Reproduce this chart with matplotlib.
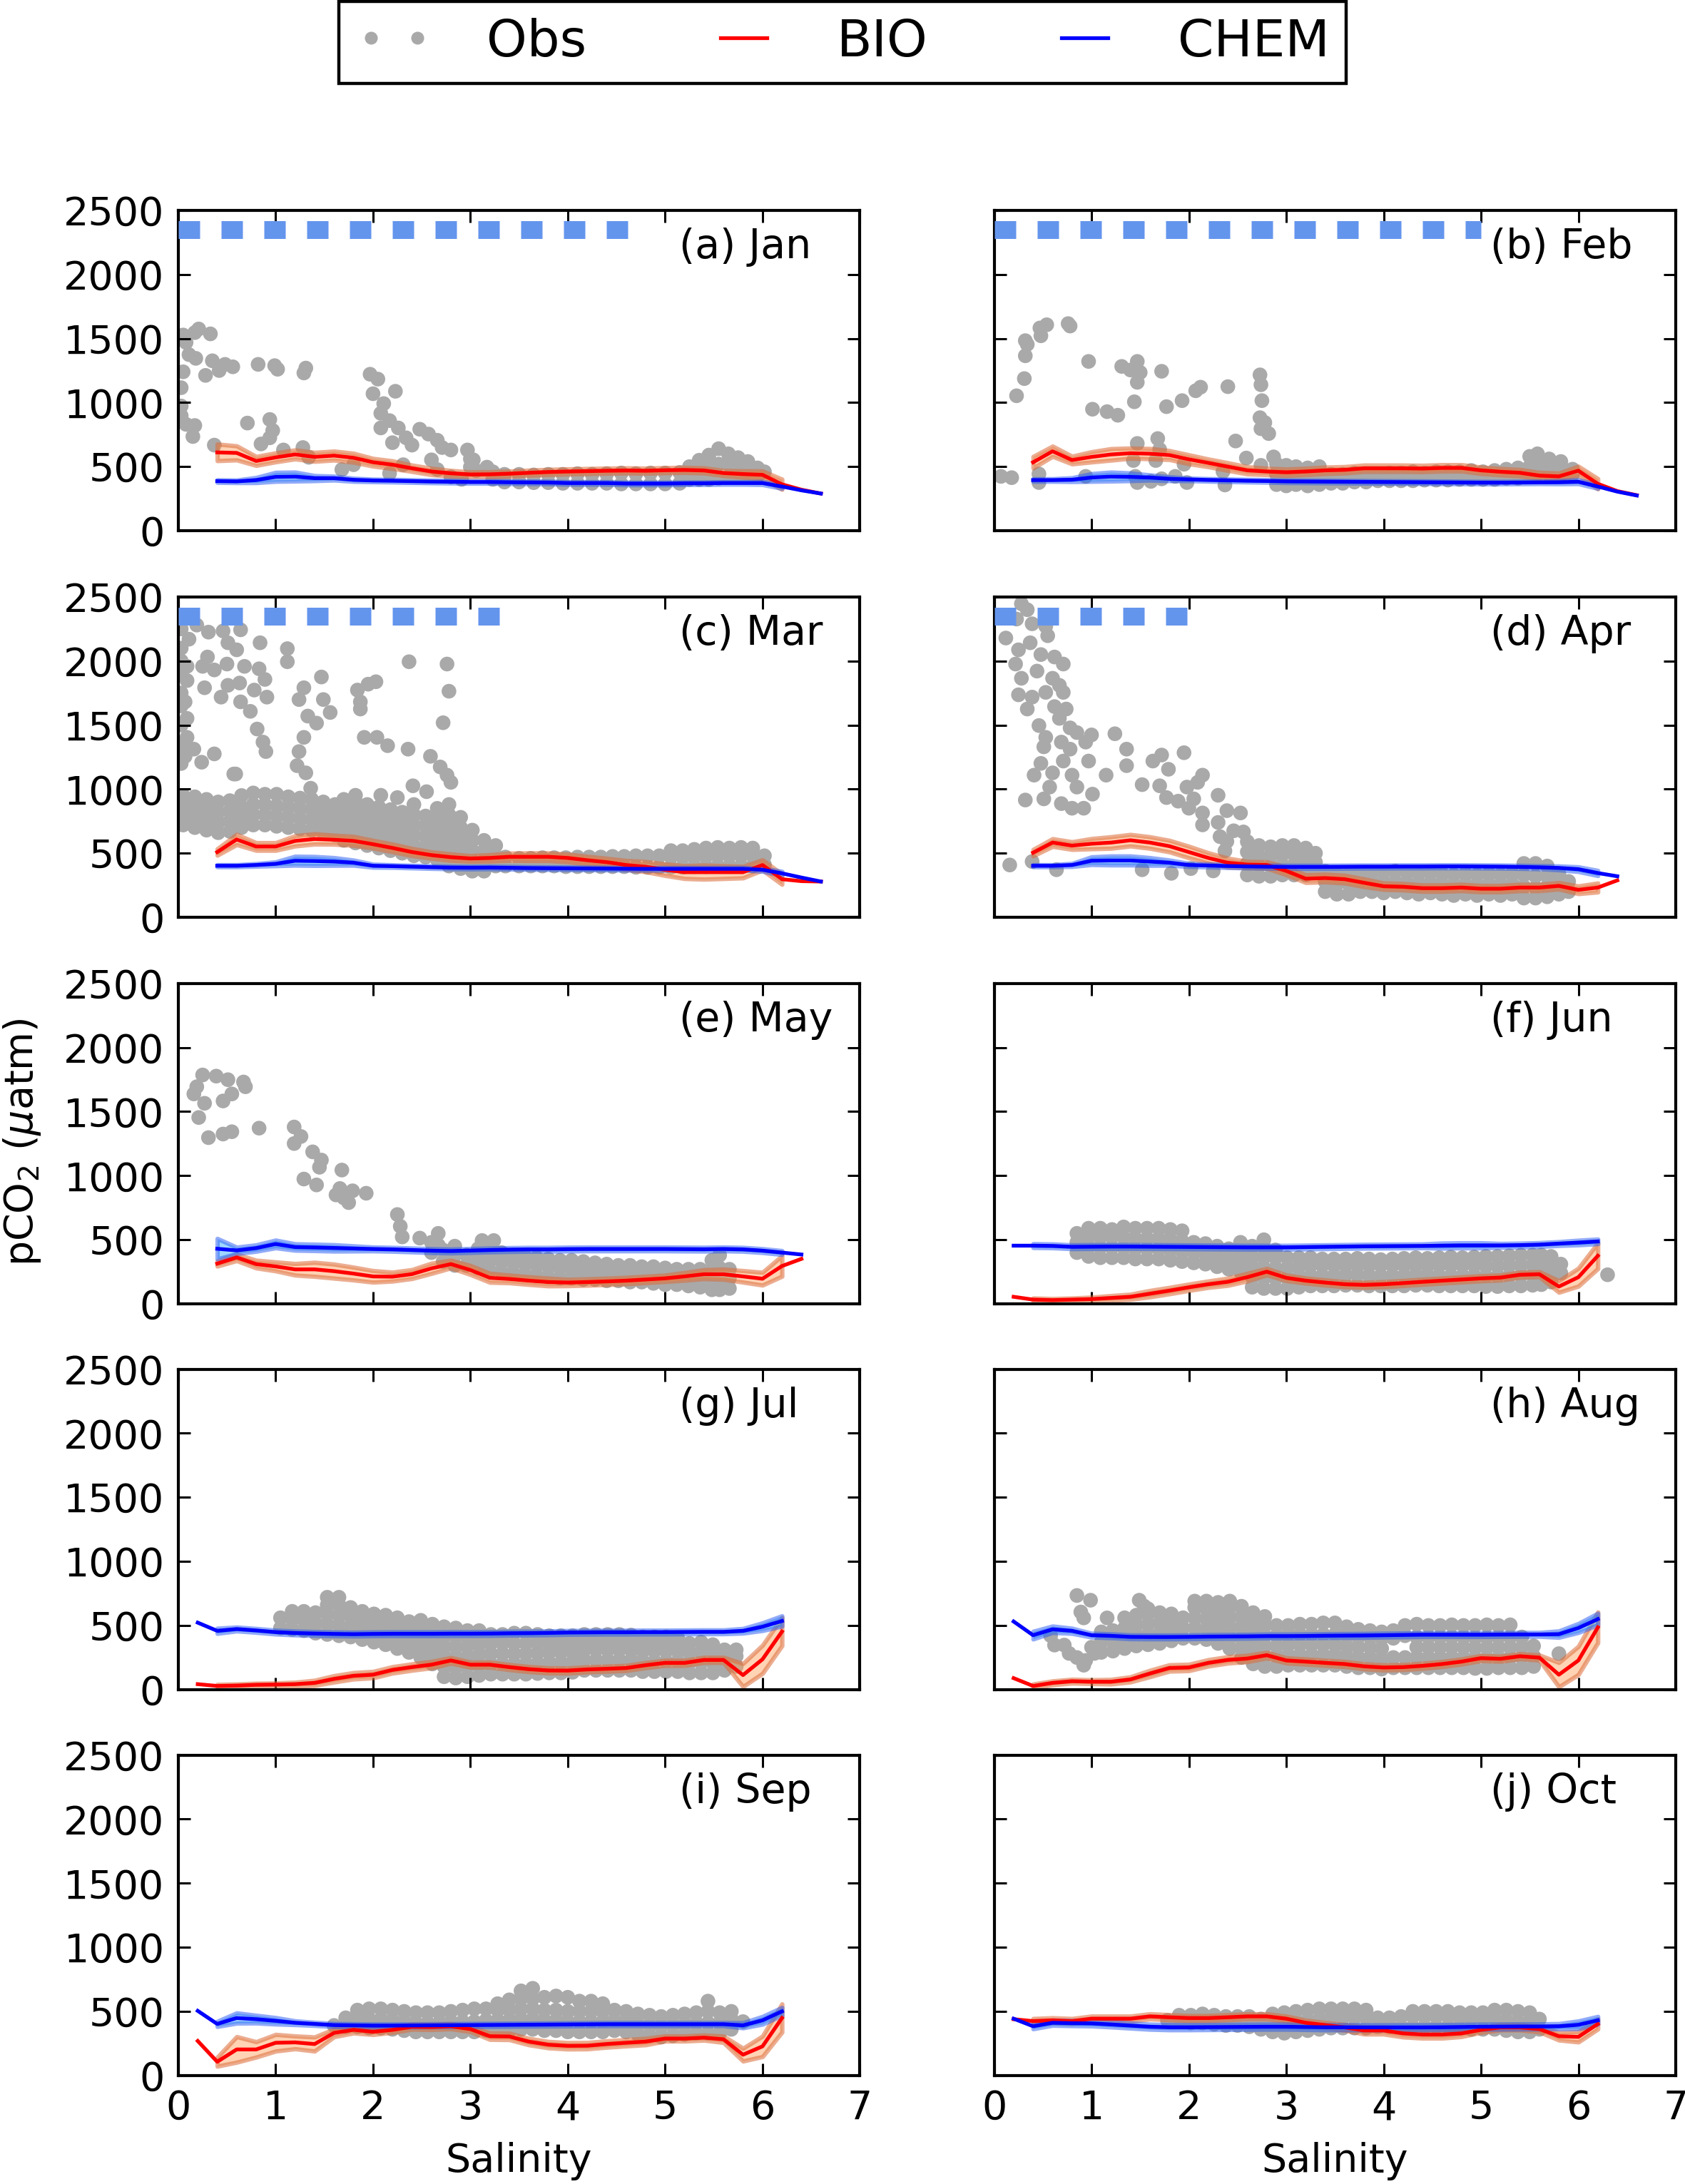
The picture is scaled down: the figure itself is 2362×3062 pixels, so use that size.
import matplotlib
matplotlib.use("Agg")
import matplotlib.pyplot as plt
from matplotlib.lines import Line2D
import numpy as np

plt.rcParams['font.family'] = 'DejaVu Sans'

months = ['Jan', 'Feb', 'Mar', 'Apr', 'May', 'Jun', 'Jul', 'Aug', 'Sep', 'Oct']
tags = ['(a) Jan', '(b) Feb', '(c) Mar', '(d) Apr', '(e) May',
        '(f) Jun', '(g) Jul', '(h) Aug', '(i) Sep', '(j) Oct']

# salinity bins of the model output
sal_to66 = [0.4, 0.6, 0.8, 1.0, 1.2, 1.4, 1.6, 1.8, 2.0, 2.2, 2.4, 2.6, 2.8, 3.0, 3.2, 3.4,
            3.6, 3.8, 4.0, 4.2, 4.4, 4.6, 4.8, 5.0, 5.2, 5.4, 5.6, 5.8, 6.0, 6.2, 6.4, 6.6]
sal_to64 = [0.4, 0.6, 0.8, 1.0, 1.2, 1.4, 1.6, 1.8, 2.0, 2.2, 2.4, 2.6, 2.8, 3.0, 3.2, 3.4,
            3.6, 3.8, 4.0, 4.2, 4.4, 4.6, 4.8, 5.0, 5.2, 5.4, 5.6, 5.8, 6.0, 6.2, 6.4]
sal_02 = [0.2, 0.4, 0.6, 0.8, 1.0, 1.2, 1.4, 1.6, 1.8, 2.0, 2.2, 2.4, 2.6, 2.8, 3.0, 3.2,
          3.4, 3.6, 3.8, 4.0, 4.2, 4.4, 4.6, 4.8, 5.0, 5.2, 5.4, 5.6, 5.8, 6.0, 6.2]
sal_band = [0.4, 0.6, 0.8, 1.0, 1.2, 1.4, 1.6, 1.8, 2.0, 2.2, 2.4, 2.6, 2.8, 3.0, 3.2,
            3.4, 3.6, 3.8, 4.0, 4.2, 4.4, 4.6, 4.8, 5.0, 5.2, 5.4, 5.6, 5.8, 6.0, 6.2]

# model means
bio_jan = [611, 607, 544, 572, 595, 576, 586, 569, 534, 515, 487, 462, 448, 439, 440, 445,
           452, 458, 462, 465, 468, 470, 468, 472, 474, 470, 450, 442, 436, 362, 320, 290]
chem_jan = [387, 385, 395, 420, 422, 410, 410, 397, 392, 390, 387, 384, 382, 380, 380, 378,
            377, 376, 372, 372, 372, 368, 368, 368, 370, 370, 372, 372, 372, 345, 315, 290]
bio_feb = [534, 620, 551, 576, 595, 605, 601, 590, 557, 529, 500, 471, 462, 456, 462, 471,
           475, 487, 487, 487, 485, 490, 490, 471, 460, 452, 430, 424, 468, 366, 309, 277]
chem_feb = [395, 395, 398, 415, 422, 420, 415, 405, 400, 396, 393, 390, 388, 385, 384, 383,
            382, 381, 380, 379, 378, 377, 376, 375, 375, 376, 377, 378, 382, 345, 305, 275]
bio_mar = [509, 607, 552, 552, 596, 611, 605, 596, 570, 541, 509, 485, 469, 459, 463, 472,
           472, 472, 463, 445, 430, 408, 395, 371, 352, 352, 352, 352, 408, 297, 282, 279]
chem_mar = [402, 402, 408, 417, 441, 439, 435, 426, 402, 399, 395, 391, 388, 387, 388, 386,
            384, 383, 382, 381, 380, 379, 378, 378, 378, 378, 378, 378, 371, 343, 310, 279]
bio_apr = [504, 583, 559, 574, 583, 601, 583, 555, 509, 463, 426, 411, 408, 362, 301, 306,
           297, 269, 242, 238, 227, 227, 232, 223, 223, 232, 232, 245, 214, 232, 288]
chem_apr = [402, 402, 408, 441, 443, 443, 435, 426, 408, 404, 400, 397, 395, 393, 393, 393,
            394, 395, 395, 396, 396, 397, 397, 396, 395, 393, 390, 385, 375, 345, 320]
bio_may = [314, 362, 310, 292, 269, 269, 255, 236, 214, 212, 232, 277, 310, 264, 203, 194,
           181, 170, 166, 170, 175, 181, 190, 199, 214, 231, 231, 214, 196, 295, 351]
chem_may = [430, 417, 435, 467, 443, 440, 436, 432, 428, 425, 420, 415, 412, 416, 420, 423,
            425, 425, 427, 428, 428, 428, 428, 428, 427, 426, 428, 425, 415, 400, 385]
bio_jun = [55, 33, 29, 33, 37, 46, 55, 79, 103, 129, 153, 172, 208, 251, 203, 181,
           166, 153, 148, 153, 162, 172, 181, 190, 199, 205, 227, 231, 135, 208, 375]
chem_jun = [454, 454, 452, 445, 446, 447, 447, 446, 445, 444, 443, 442, 441, 441, 441, 443,
            445, 447, 449, 450, 451, 452, 454, 456, 456, 456, 458, 462, 470, 478, 487]
bio_jul = [42, 28, 31, 37, 39, 42, 52, 83, 107, 116, 153, 175, 194, 227, 194, 194,
           175, 159, 149, 148, 157, 162, 168, 190, 208, 208, 231, 231, 113, 236, 452]
chem_jul = [522, 458, 472, 461, 448, 441, 437, 434, 432, 434, 435, 435, 435, 436, 436, 437,
            439, 440, 442, 445, 446, 447, 447, 448, 448, 449, 450, 450, 458, 490, 535]
bio_aug = [89, 28, 52, 65, 61, 61, 79, 125, 168, 172, 208, 231, 242, 268, 227, 218,
           208, 199, 181, 172, 175, 185, 199, 218, 245, 240, 260, 249, 116, 227, 485]
chem_aug = [531, 424, 470, 458, 424, 419, 411, 410, 410, 411, 413, 414, 415, 417, 417, 418,
            420, 421, 422, 424, 426, 428, 428, 428, 428, 429, 430, 430, 432, 480, 550]
bio_sep = [269, 107, 203, 203, 255, 258, 245, 332, 356, 341, 356, 380, 378, 384, 362, 306,
           304, 264, 240, 231, 232, 245, 255, 264, 288, 288, 295, 282, 162, 227, 448]
chem_sep = [504, 402, 448, 439, 426, 411, 402, 393, 391, 389, 389, 390, 391, 392, 393, 394,
            395, 396, 397, 398, 399, 400, 400, 400, 400, 400, 400, 400, 391, 430, 500]
bio_oct = [439, 424, 430, 424, 443, 443, 443, 461, 454, 448, 448, 454, 461, 461, 443, 411,
           393, 375, 351, 351, 328, 319, 319, 328, 356, 375, 375, 362, 306, 301, 402]
chem_oct = [443, 384, 411, 408, 406, 398, 389, 380, 376, 376, 377, 378, 379, 380, 380, 378,
            376, 376, 375, 375, 375, 375, 376, 378, 380, 381, 382, 382, 384, 395, 430]

# half-width of the ensemble spread on sal_band
bio_w_jan = [65, 55, 35, 35, 35, 35, 35, 35, 30, 30, 25, 25, 22, 20, 20, 20, 20, 20, 20, 20,
             20, 20, 20, 20, 20, 20, 20, 25, 30, 40]
chem_w_jan = [10, 10, 20, 35, 35, 20, 15, 12, 10, 10, 10, 10, 10, 10, 10, 10, 10, 10, 10, 10,
              10, 10, 10, 10, 10, 10, 10, 10, 12, 15]
bio_w_feb = [45, 40, 30, 40, 45, 40, 40, 35, 35, 30, 30, 28, 25, 25, 25, 25, 25, 25, 25, 25,
             25, 25, 25, 25, 25, 25, 25, 25, 35, 40]
chem_w_feb = [10, 10, 15, 30, 35, 30, 20, 15, 10, 10, 10, 10, 10, 10, 10, 10, 10, 10, 10, 10,
              10, 10, 10, 10, 10, 10, 10, 12, 15, 15]
bio_w_mar = [25, 40, 30, 30, 40, 40, 35, 35, 30, 30, 28, 25, 25, 22, 25, 28, 30, 30, 30, 30,
             30, 35, 40, 45, 50, 55, 50, 45, 40, 40]
chem_w_mar = [8, 8, 10, 15, 35, 35, 30, 20, 12, 10, 10, 10, 10, 10, 10, 10, 10, 10, 10, 10,
              10, 10, 10, 10, 10, 10, 10, 10, 12, 15]
bio_w_apr = [25, 30, 30, 40, 45, 45, 45, 45, 45, 40, 35, 25, 25, 30, 30, 30, 30, 30, 25, 25,
             25, 25, 25, 25, 25, 25, 25, 25, 30, 35]
chem_w_apr = [8, 8, 12, 30, 35, 35, 30, 20, 12, 12, 12, 12, 12, 12, 12, 12, 12, 12, 12, 12,
              12, 12, 12, 12, 12, 12, 12, 15, 18, 20]
bio_w_may = [20, 25, 30, 35, 45, 55, 55, 50, 45, 35, 35, 40, 30, 35, 35, 30, 30, 30, 25, 25,
             25, 25, 25, 25, 30, 35, 40, 45, 50, 80]
chem_w_may = [80, 25, 25, 30, 25, 25, 25, 20, 15, 15, 15, 15, 15, 15, 15, 15, 15, 15, 15, 15,
              15, 15, 15, 15, 15, 15, 15, 15, 15, 15]
bio_w_jun = [12, 12, 12, 15, 18, 20, 25, 25, 25, 25, 28, 30, 25, 22, 20, 20, 20, 20, 20, 20,
             20, 20, 20, 20, 20, 20, 20, 45, 70, 100]
chem_w_jun = [15, 15, 15, 15, 15, 15, 15, 15, 15, 15, 15, 15, 15, 15, 15, 15, 15, 15, 15, 15,
              15, 20, 20, 20, 15, 15, 15, 15, 18, 18]
bio_w_jul = [12, 12, 12, 12, 15, 20, 25, 25, 25, 25, 25, 25, 22, 20, 20, 20, 20, 20, 20, 20,
             20, 20, 20, 20, 20, 20, 20, 90, 110, 110]
chem_w_jul = [20, 15, 15, 15, 15, 15, 15, 15, 15, 15, 15, 15, 15, 15, 15, 15, 15, 15, 15, 15,
              15, 15, 15, 15, 15, 15, 15, 18, 30, 40]
bio_w_aug = [15, 15, 15, 15, 18, 20, 25, 25, 25, 25, 25, 25, 22, 20, 20, 20, 20, 20, 20, 20,
             20, 20, 20, 20, 20, 20, 20, 95, 110, 120]
chem_w_aug = [30, 25, 20, 15, 15, 15, 15, 15, 15, 15, 15, 15, 15, 15, 15, 15, 15, 15, 15, 15,
              15, 15, 15, 15, 15, 15, 15, 25, 35, 45]
bio_w_sep = [35, 100, 60, 65, 50, 55, 30, 25, 22, 20, 20, 20, 20, 20, 25, 25, 25, 25, 25, 25,
             25, 25, 25, 20, 20, 20, 25, 50, 80, 110]
chem_w_sep = [20, 40, 30, 25, 15, 12, 12, 12, 12, 12, 12, 12, 12, 12, 12, 12, 12, 12, 12, 12,
              12, 12, 12, 12, 12, 12, 12, 20, 30, 30]
bio_w_oct = [20, 20, 20, 20, 20, 20, 20, 20, 20, 20, 20, 20, 20, 20, 20, 20, 22, 28, 28, 28,
             28, 28, 25, 20, 20, 20, 22, 30, 40, 40]
chem_w_oct = [20, 20, 20, 20, 20, 20, 20, 20, 20, 20, 20, 20, 20, 20, 20, 20, 20, 20, 20, 20,
              20, 20, 20, 20, 20, 20, 20, 20, 30, 30]

# observations: (salinity, [pCO2 values at that salinity])
obs_jan = [
    (0.03, [1116, 973, 897]), (0.05, [1527, 1240]), (0.08, [1469, 830]), (0.11, [1374]),
    (0.15, [735]), (0.17, [1546, 821]), (0.18, [1345]), (0.21, [1574]), (0.28, [1212]),
    (0.33, [1536]), (0.35, [1326]), (0.37, [668]), (0.42, [1250]), (0.48, [1298]),
    (0.56, [1279]), (0.71, [840]), (0.82, [1298]), (0.85, [677]), (0.94, [868, 725]),
    (0.97, [782]), (0.99, [1288]), (1.02, [1260]), (1.08, [630]), (1.28, [649]),
    (1.29, [1231]), (1.31, [1269]), (1.34, [573]), (1.68, [477]), (1.80, [515]),
    (1.97, [1221]), (2.00, [1069]), (2.05, [1183]), (2.08, [916, 802]), (2.11, [992]),
    (2.17, [859, 448]), (2.20, [687]), (2.23, [1088]), (2.26, [802]), (2.31, [515]),
    (2.34, [725]), (2.40, [668]), (2.48, [792]), (2.57, [754]), (2.60, [553]),
    (2.66, [706, 477]), (2.71, [649]), (2.80, [630, 420]), (2.91, [401]), (2.97, [630]),
    (3.00, [496, 560]), (3.03, [553]), (3.06, [468]), (3.17, [496]), (3.23, [401, 460]),
    (3.35, [380, 440]), (3.50, [380, 440]), (3.65, [375, 435]), (3.80, [375, 440]),
    (3.95, [370, 440]), (4.10, [370, 445]), (4.25, [370, 440]), (4.40, [370, 445]),
    (4.55, [365, 450]), (4.70, [365, 445]), (4.85, [365, 450]), (5.00, [365, 450]),
    (5.15, [370, 455]), (5.25, [400, 500]), (5.35, [400, 480, 550]), (5.45, [400, 500, 590]),
    (5.55, [410, 520, 640]), (5.65, [420, 520, 600]), (5.75, [420, 500, 570]),
    (5.85, [420, 480, 540]), (5.95, [430, 490]), (6.02, [460]),
]
obs_feb = [
    (0.07, [424]), (0.18, [414]), (0.23, [1053]), (0.31, [1187]), (0.32, [1365, 1483]),
    (0.34, [1454]), (0.46, [443, 376]), (0.47, [1582]), (0.48, [1521]), (0.54, [1607]),
    (0.76, [1616]), (0.78, [1597]), (0.94, [424]), (0.97, [1321]), (1.01, [948]),
    (1.16, [929]), (1.27, [901]), (1.31, [1282]), (1.40, [1254]), (1.43, [548]),
    (1.44, [1006]), (1.45, [424]), (1.47, [1321, 1158, 681, 376]), (1.50, [1235]),
    (1.61, [385]), (1.66, [548]), (1.68, [719]), (1.70, [634]), (1.72, [1244, 405]),
    (1.77, [968]), (1.86, [424]), (1.93, [1015]), (1.95, [519]), (1.98, [376]),
    (2.07, [1092]), (2.12, [1120]), (2.35, [462]), (2.37, [357]), (2.40, [1124]),
    (2.48, [700]), (2.59, [567]), (2.73, [1216, 882]), (2.74, [1139, 796, 510]),
    (2.75, [1015]), (2.78, [844]), (2.82, [758]), (2.87, [576]),
    (2.90, [360, 440, 520]), (3.00, [350, 430, 510]), (3.10, [360, 440, 500]),
    (3.22, [350, 420, 490]), (3.34, [360, 430, 500]), (3.46, [370, 440]), (3.58, [370, 440]),
    (3.70, [380, 450]), (3.82, [380, 440]), (3.94, [390, 440]), (4.06, [390, 450]),
    (4.18, [390, 450]), (4.30, [390, 460]), (4.42, [395, 450]), (4.54, [395, 460]),
    (4.66, [395, 460]), (4.78, [400, 460]), (4.90, [400, 470]), (5.02, [400, 460]),
    (5.14, [400, 470]), (5.26, [410, 480]), (5.38, [410, 490]), (5.50, [420, 500, 580]),
    (5.58, [440, 530, 600]), (5.70, [430, 500, 560]), (5.82, [430, 490, 540]), (5.94, [440, 480]),
]
obs_mar = [
    (0.03, [2350, 2250, 2100, 2000, 1900, 1750, 1650, 1500, 1350, 1200]),
    (0.19, [2280]), (0.31, [2225]), (0.46, [2234]), (0.64, [2243]), (0.11, [2170]),
    (0.51, [2142, 1810]), (0.60, [2087]), (0.84, [2142]), (1.12, [2096, 1994]), (0.30, [2031]),
    (0.25, [1958]), (0.09, [1958, 1847, 1552, 1404]), (0.37, [1930, 1275]), (0.50, [1976]),
    (0.68, [1958]), (0.83, [1939]), (0.89, [1856]), (0.27, [1791]), (0.63, [1828]),
    (0.78, [1773]), (0.91, [1718]), (0.07, [1681, 1256]), (0.44, [1718]), (0.64, [1681]),
    (0.74, [1607]), (0.81, [1469]), (0.87, [1367]), (0.90, [1293]), (0.16, [1312]),
    (0.24, [1210]), (0.57, [1118]), (0.59, [1118]), (1.29, [1791, 1404]), (1.24, [1699, 1293]),
    (1.47, [1875]), (1.49, [1699]), (1.56, [1598]), (1.33, [1570]), (1.42, [1515]),
    (1.22, [1183]), (1.31, [1127]), (1.36, [1007]), (1.84, [1773]), (1.95, [1819]),
    (2.03, [1838]), (1.87, [1681, 1625]), (1.91, [1404]), (2.04, [1404]), (2.15, [1339]),
    (2.37, [1994]), (2.36, [1312]), (2.76, [1976, 1109]), (2.78, [1764]), (2.72, [1518]),
    (2.59, [1256]), (2.69, [1173]), (2.80, [1053]), (2.41, [1026]), (2.55, [980]),
    (1.82, [952]), (2.08, [952]), (2.25, [934]),
    (0.05, [720, 800, 880, 950]), (0.17, [700, 780, 860, 940]), (0.29, [680, 760, 840, 920]),
    (0.41, [660, 740, 820, 900]), (0.53, [670, 750, 830, 910]), (0.65, [700, 780, 860, 950]),
    (0.77, [720, 800, 880, 970]), (0.89, [720, 800, 880, 960]), (1.01, [710, 790, 870, 960]),
    (1.13, [700, 780, 860, 940]), (1.25, [690, 770, 850, 930]), (1.37, [680, 760, 840, 920]),
    (1.49, [660, 740, 820, 900]), (1.61, [640, 720, 800, 880]),
    (1.70, [600, 680, 760, 840, 920]), (1.82, [580, 660, 740, 820, 900]),
    (1.94, [560, 640, 720, 800, 880]), (2.06, [540, 620, 700, 780, 860]),
    (2.18, [520, 600, 680, 760, 840]), (2.30, [500, 580, 660, 740, 820]),
    (2.42, [480, 560, 640, 720, 800, 880]), (2.54, [470, 550, 630, 710, 790]),
    (2.66, [450, 530, 610, 690, 770, 850]), (2.78, [400, 480, 560, 640, 720, 800, 880]),
    (2.90, [380, 460, 540, 620, 700, 780]), (3.02, [360, 440, 520, 600, 680]),
    (3.14, [360, 440, 520, 600]), (3.26, [400, 480, 560]), (3.36, [400, 470]),
    (3.50, [400, 460]), (3.62, [400, 460]), (3.74, [400, 465]), (3.86, [400, 465]),
    (3.98, [395, 465]), (4.10, [395, 470]), (4.22, [395, 470]), (4.34, [395, 470]),
    (4.46, [395, 475]), (4.58, [395, 475]), (4.70, [390, 480]), (4.82, [390, 480]),
    (4.94, [390, 480]), (5.06, [390, 470, 520]), (5.18, [390, 470, 520]), (5.30, [395, 470, 530]),
    (5.42, [395, 475, 540]), (5.54, [400, 480, 545]), (5.66, [400, 480, 540]),
    (5.78, [400, 480, 545]), (5.90, [400, 480, 540]), (6.02, [410, 480]),
]
obs_apr = [
    (0.28, [2446, 1865]), (0.34, [2400, 1625]), (0.23, [2327]), (0.39, [2290, 1718, 435]),
    (0.53, [2271, 1755, 1404]), (0.55, [2197]), (0.12, [2179]), (0.25, [2087, 1736]),
    (0.37, [2142]), (0.22, [1976]), (0.48, [2050, 1201]), (0.62, [2031, 1644]),
    (0.71, [1976, 1755, 1219]), (0.44, [1921]), (0.60, [1865, 1127]), (0.67, [1810, 1552]),
    (0.74, [1625]), (0.46, [1496]), (0.78, [1478, 1312]), (0.85, [1441, 1016]), (1.00, [1423]),
    (0.69, [1367, 887]), (0.51, [1330, 924]), (0.94, [1367]), (0.97, [1219]), (0.41, [1109]),
    (0.80, [1109, 851]), (0.57, [1016]), (1.01, [961]), (0.32, [915]), (0.92, [851]),
    (0.16, [408]), (0.64, [371]),
    (1.24, [1432]), (1.36, [1312, 1183]), (1.15, [1109]), (1.63, [1219]), (1.72, [1266]),
    (1.95, [1284]), (1.79, [1155]), (1.52, [1035, 371]), (1.70, [1026]), (1.98, [1016]),
    (2.14, [1109, 814, 721]), (2.09, [1053]), (1.77, [934]), (1.89, [906]), (2.05, [924]),
    (2.00, [851]), (2.30, [952, 740]), (2.39, [832, 592]), (2.53, [814]), (2.46, [675]),
    (2.56, [666]), (2.32, [629]), (2.37, [518]), (1.82, [343]), (2.02, [380]), (2.25, [362]),
    (2.60, [330, 420, 510, 590]), (2.72, [320, 400, 480, 560]), (2.84, [320, 400, 480, 550]),
    (2.96, [330, 410, 490, 560]), (3.08, [330, 410, 490, 560]), (3.20, [330, 400, 470, 540]),
    (3.30, [350, 430, 500]),
    (3.40, [200, 280, 360]), (3.52, [180, 260, 340]), (3.64, [180, 260, 340]),
    (3.76, [200, 280, 350]), (3.88, [200, 280, 350]), (4.00, [190, 270, 350]),
    (4.12, [200, 280, 360]), (4.24, [190, 270, 350]), (4.36, [180, 260, 340]),
    (4.48, [190, 270, 350]), (4.60, [180, 260, 340]), (4.72, [170, 250, 330]),
    (4.84, [180, 260, 340]), (4.96, [170, 250, 330]), (5.08, [180, 260, 340]),
    (5.20, [170, 250, 330]), (5.32, [180, 260, 340]), (5.44, [150, 240, 330, 420]),
    (5.56, [150, 230, 320, 420]), (5.68, [160, 240, 320, 400]), (5.80, [180, 260, 340]),
    (5.90, [200, 280]),
]
obs_may = [
    (0.25, [1786]), (0.19, [1694]), (0.16, [1638]), (0.39, [1777]), (0.51, [1749]),
    (0.67, [1731]), (0.69, [1694]), (0.55, [1638, 1343]), (0.46, [1583, 1325]), (0.27, [1565]),
    (0.21, [1454]), (0.31, [1297]), (0.83, [1371]), (1.19, [1380, 1251]), (1.26, [1306]),
    (1.38, [1186]), (1.47, [1122]), (1.45, [1066]), (1.68, [1044]), (1.29, [974]),
    (1.42, [928]), (1.66, [900]), (1.70, [827]), (1.79, [882]), (1.93, [863]), (1.75, [790]),
    (1.62, [850]), (2.25, [697]), (2.28, [605]), (2.30, [522]), (2.48, [513]),
    (2.67, [550, 458]), (2.76, [393]), (3.12, [494]), (3.24, [494]),
    (2.60, [400, 480]), (2.72, [330, 420]), (2.84, [300, 380, 450]), (2.96, [300, 380]),
    (3.08, [280, 360, 430]), (3.20, [260, 340, 420]), (3.32, [250, 330, 400]),
    (3.44, [240, 320, 380]), (3.56, [230, 310, 370]), (3.68, [220, 300, 360]),
    (3.80, [210, 290, 350]), (3.92, [200, 280, 340]), (4.04, [200, 270, 340]),
    (4.16, [190, 260, 330]), (4.28, [190, 260, 320]), (4.40, [180, 250, 310]),
    (4.52, [180, 250, 300]), (4.64, [170, 240, 300]), (4.76, [170, 240, 290]),
    (4.88, [160, 230, 290]), (5.00, [150, 220, 280]), (5.12, [150, 220, 270]),
    (5.24, [140, 210, 270]), (5.36, [130, 200, 270]), (5.48, [110, 190, 270, 340]),
    (5.56, [110, 190, 280, 380]), (5.66, [120, 200, 270]),
]
obs_jun = [
    (0.85, [400, 480, 550]), (0.97, [370, 450, 530, 590]), (1.09, [360, 440, 520, 590]),
    (1.21, [360, 440, 520, 580]), (1.33, [360, 440, 520, 600]), (1.45, [350, 430, 510, 590]),
    (1.57, [350, 430, 510, 590]), (1.69, [350, 430, 510, 590]), (1.81, [340, 420, 500, 580]),
    (1.93, [330, 410, 490, 570]), (2.05, [320, 400, 480]), (2.17, [310, 390, 470]),
    (2.29, [290, 370, 450]), (2.41, [270, 350, 430]), (2.53, [250, 330, 410, 480]),
    (2.65, [130, 210, 290, 370, 450]), (2.77, [120, 200, 280, 360, 440, 500]),
    (2.89, [120, 200, 280, 360, 420]), (3.01, [120, 200, 280, 360]),
    (3.13, [130, 210, 290, 360]), (3.25, [140, 220, 300, 360]), (3.37, [140, 220, 300, 350]),
    (3.49, [140, 220, 300, 350]), (3.61, [145, 225, 300, 350]), (3.73, [145, 225, 300, 355]),
    (3.85, [140, 220, 300, 350]), (3.97, [140, 220, 300, 345]), (4.09, [140, 220, 300, 350]),
    (4.21, [140, 220, 300, 355]), (4.33, [145, 225, 300, 360]), (4.45, [145, 225, 300, 355]),
    (4.57, [140, 220, 300, 360]), (4.69, [140, 220, 300, 365]), (4.81, [140, 220, 300, 360]),
    (4.93, [140, 220, 300, 365]), (5.05, [135, 215, 295, 370]), (5.17, [135, 215, 295, 370]),
    (5.29, [140, 220, 300, 375]), (5.41, [140, 220, 300, 380]), (5.53, [145, 225, 305, 380]),
    (5.62, [150, 230, 310, 380]), (5.72, [170, 250, 320, 370]), (5.82, [240, 310]),
    (6.30, [227]),
]
obs_jul = [
    (1.05, [480, 560]), (1.17, [470, 550, 610]), (1.29, [460, 540, 610]),
    (1.41, [440, 520, 600]), (1.53, [430, 510, 590, 660, 720]), (1.65, [420, 500, 580, 660, 720]),
    (1.77, [410, 490, 570, 640]), (1.89, [390, 470, 550, 610]), (2.01, [370, 450, 530, 590]),
    (2.13, [350, 430, 510, 580]), (2.25, [320, 400, 480, 560]), (2.37, [290, 370, 450, 530]),
    (2.49, [250, 330, 410, 490, 540]), (2.61, [200, 280, 360, 440, 510]),
    (2.73, [100, 180, 260, 340, 420, 490]), (2.85, [90, 170, 250, 330, 410, 480]),
    (2.97, [100, 180, 260, 340, 410, 460]), (3.09, [110, 190, 270, 350, 420, 460]),
    (3.21, [120, 200, 280, 360, 430]), (3.33, [120, 200, 280, 360, 430]),
    (3.45, [120, 200, 280, 360, 440]), (3.57, [120, 200, 280, 360, 440]),
    (3.69, [125, 205, 285, 360, 430]), (3.81, [130, 210, 290, 360, 420]),
    (3.93, [130, 210, 290, 360, 420]), (4.05, [135, 215, 290, 360, 420]),
    (4.17, [150, 230, 310, 380, 430]), (4.29, [150, 230, 310, 380, 430]),
    (4.41, [150, 230, 310, 380, 430]), (4.53, [150, 230, 310, 380, 430]),
    (4.65, [150, 230, 310, 380, 425]), (4.77, [140, 220, 300, 370, 410]),
    (4.89, [140, 220, 300, 370, 410]), (5.01, [140, 220, 300, 370, 410]),
    (5.13, [140, 220, 300, 370, 400]), (5.25, [130, 210, 290, 360]),
    (5.37, [130, 210, 290, 370]), (5.49, [130, 210, 290, 350]), (5.61, [150, 230, 310]),
    (5.73, [180, 260, 310]),
]
obs_aug = [
    (0.85, [734, 250]), (0.99, [697]), (0.89, [605]), (0.92, [559, 190]), (1.16, [559]),
    (0.58, [421]), (0.62, [347]), (0.72, [347]), (0.77, [282]), (0.94, [227]),
    (1.03, [282]), (1.49, [697]), (1.54, [651]), (1.00, [330]),
    (1.10, [290, 370, 450]), (1.22, [300, 380, 460]), (1.34, [320, 400, 480, 560]),
    (1.46, [340, 420, 500, 580]), (1.58, [350, 430, 510, 590, 630]),
    (1.70, [360, 440, 520, 600]), (1.82, [380, 460, 540, 590]), (1.94, [400, 480, 560]),
    (2.06, [400, 480, 560, 640, 690]), (2.18, [390, 470, 550, 630, 690]),
    (2.30, [360, 440, 520, 600, 680]), (2.42, [320, 400, 480, 560, 640, 690]),
    (2.54, [250, 330, 410, 490, 570, 650]), (2.66, [200, 280, 360, 440, 520, 600]),
    (2.78, [180, 260, 340, 420, 500, 570]), (2.90, [180, 260, 340, 420, 500]),
    (3.02, [190, 270, 350, 430, 500]), (3.14, [190, 270, 350, 430, 510]),
    (3.26, [190, 270, 350, 430, 510]), (3.38, [190, 270, 350, 430, 520]),
    (3.50, [190, 270, 350, 430, 520]), (3.62, [180, 260, 340, 420, 490]),
    (3.74, [170, 250, 330, 410, 470]), (3.86, [170, 250, 330, 410, 460]),
    (3.98, [160, 240, 320, 400, 450]), (4.10, [170, 250, 400, 460]),
    (4.22, [170, 250, 420, 500]), (4.34, [170, 250, 330, 410, 510]),
    (4.46, [170, 250, 330, 410, 500]), (4.58, [170, 250, 330, 410, 500]),
    (4.70, [170, 250, 330, 410, 505]), (4.82, [170, 250, 330, 410, 500]),
    (4.94, [165, 245, 325, 405, 500]), (5.06, [165, 245, 325, 405, 505]),
    (5.18, [170, 250, 330, 410, 500]), (5.30, [170, 250, 330, 410, 505]),
    (5.42, [170, 250, 330, 410]), (5.54, [180, 260, 340]), (5.80, [280]),
]
obs_sep = [
    (1.60, [390]), (1.72, [380, 450]), (1.84, [380, 450, 510]), (1.96, [370, 440, 520]),
    (2.08, [370, 440, 520]), (2.20, [360, 430, 510]), (2.32, [350, 420, 500]),
    (2.44, [340, 410, 490]), (2.56, [340, 410, 490]), (2.68, [340, 410, 490]),
    (2.80, [340, 420, 500]), (2.92, [340, 420, 510]), (3.04, [340, 420, 520]),
    (3.16, [350, 430, 520]), (3.28, [350, 430, 510, 560]), (3.40, [350, 430, 510, 590]),
    (3.52, [360, 440, 520, 600, 660]), (3.64, [360, 440, 520, 600, 680]),
    (3.76, [350, 430, 510, 610]), (3.88, [350, 430, 510, 620]), (4.00, [340, 420, 500, 610]),
    (4.12, [340, 420, 500, 580]), (4.24, [340, 420, 500, 580]), (4.36, [340, 420, 500, 560]),
    (4.48, [350, 430, 510]), (4.60, [340, 420, 500]), (4.72, [320, 400, 480]),
    (4.84, [310, 390, 470]), (4.96, [300, 380, 460]), (5.08, [310, 390, 470]),
    (5.20, [320, 400, 480]), (5.32, [330, 410, 490]), (5.44, [330, 410, 500, 580]),
    (5.56, [330, 410, 490]), (5.68, [360, 440, 500]), (5.80, [420]),
]
obs_oct = [
    (1.78, [430]), (1.90, [420, 470]), (2.02, [410, 470]), (2.14, [410, 480]),
    (2.26, [400, 470]), (2.38, [390, 460]), (2.50, [390, 460]), (2.62, [380, 460]),
    (2.74, [360, 440]), (2.86, [340, 420, 480]), (2.98, [330, 410, 490]),
    (3.10, [340, 420, 500]), (3.22, [350, 430, 510]), (3.34, [360, 440, 520]),
    (3.46, [370, 450, 520]), (3.58, [370, 450, 520]), (3.70, [370, 450, 520]),
    (3.82, [370, 450, 510]), (3.94, [380, 450]), (4.06, [380, 450]), (4.18, [380, 460]),
    (4.30, [380, 460, 500]), (4.42, [380, 460, 500]), (4.54, [380, 460, 500]),
    (4.66, [380, 460, 500]), (4.78, [370, 450, 490]), (4.90, [360, 440, 490]),
    (5.02, [360, 440, 490]), (5.14, [360, 440, 510]), (5.26, [350, 430, 510]),
    (5.38, [340, 420, 500]), (5.50, [340, 420, 490]), (5.60, [360, 440]),
]

# thick dashed bar near the top of the winter panels: (end salinity, level)
bar_end = {'Jan': 4.65, 'Feb': 5.0, 'Mar': 3.3, 'Apr': 2.0}
bar_level = 2350

panels = [
    (sal_to66, bio_jan, chem_jan, bio_w_jan, chem_w_jan, obs_jan),
    (sal_to66, bio_feb, chem_feb, bio_w_feb, chem_w_feb, obs_feb),
    (sal_to66, bio_mar, chem_mar, bio_w_mar, chem_w_mar, obs_mar),
    (sal_to64, bio_apr, chem_apr, bio_w_apr, chem_w_apr, obs_apr),
    (sal_to64, bio_may, chem_may, bio_w_may, chem_w_may, obs_may),
    (sal_02, bio_jun, chem_jun, bio_w_jun, chem_w_jun, obs_jun),
    (sal_02, bio_jul, chem_jul, bio_w_jul, chem_w_jul, obs_jul),
    (sal_02, bio_aug, chem_aug, bio_w_aug, chem_w_aug, obs_aug),
    (sal_02, bio_sep, chem_sep, bio_w_sep, chem_w_sep, obs_sep),
    (sal_02, bio_oct, chem_oct, bio_w_oct, chem_w_oct, obs_oct),
]


def unpack(cols):
    xs, ys = [], []
    for s, vals in cols:
        for v in vals:
            xs.append(s)
            ys.append(v)
    return xs, ys


def on_band(grid, vals):
    # pick the line values at the salinities where the spread is given
    g = np.round(np.array(grid), 2)
    keep = np.isin(g, np.round(np.array(sal_band), 2))
    return np.array(vals, dtype=float)[keep]


fig = plt.figure(figsize=(11.81, 15.31), dpi=200)
lefts = [0.1058, 0.590]
bottoms = [0.757, 0.580, 0.403, 0.2264, 0.0497]
w, h = 0.4045, 0.1467

dot_size = 55
for k, (grid, bio, chem, bio_w, chem_w, obs) in enumerate(panels):
    r, c = divmod(k, 2)
    ax = fig.add_axes([lefts[c], bottoms[r], w, h])

    xs, ys = unpack(obs)
    ax.scatter(xs, ys, s=dot_size, color='darkgray', edgecolors='none', zorder=1)

    bb = on_band(grid, bio)
    ax.fill_between(sal_band, bb - np.array(bio_w), bb + np.array(bio_w),
                    facecolor=(1.0, 0.62, 0.35, 0.45), edgecolor=(0.86, 0.42, 0.22, 0.55),
                    linewidth=2.2, zorder=2)
    cb = on_band(grid, chem)
    ax.fill_between(sal_band, cb - np.array(chem_w), cb + np.array(chem_w),
                    facecolor=(0.25, 0.7, 1.0, 0.5), edgecolor=(0.15, 0.35, 0.95, 0.5),
                    linewidth=2.2, zorder=2)

    ax.plot(grid, bio, color='red', lw=1.9, zorder=3)
    ax.plot(grid, chem, color='blue', lw=1.9, zorder=3)

    m = months[k]
    if m in bar_end:
        ax.plot([0, bar_end[m]], [bar_level, bar_level], color='cornflowerblue',
                lw=9, dashes=(1.2, 1.2), solid_capstyle='butt', zorder=4)

    ax.set_xlim(0, 7)
    ax.set_ylim(0, 2500)
    ax.set_xticks(range(0, 8))
    ax.set_yticks(range(0, 2501, 500))
    ax.tick_params(direction='in', length=6, width=1.1, top=True, right=True,
                   labelsize=20, pad=7)
    for sp in ax.spines.values():
        sp.set_linewidth(1.5)
    if c == 1:
        ax.tick_params(labelleft=False)
    if r < 4:
        ax.tick_params(labelbottom=False)
    else:
        ax.set_xlabel('Salinity', fontsize=20, labelpad=7)

    ax.text(0.735 if c == 0 else 0.728, 0.885, tags[k], transform=ax.transAxes,
            ha='left', va='center', fontsize=20.5)

fig.text(0.013, 0.477, r'pCO$_2$ ($\mu$atm)', rotation=90, ha='center', va='center',
         fontsize=20)

handles = [
    Line2D([], [], ls='none', marker='o', markersize=6.5, color='darkgray',
           markeredgecolor='none'),
    Line2D([], [], color='red', lw=1.9),
    Line2D([], [], color='blue', lw=1.9),
]
leg = fig.legend(handles, ['Obs', 'BIO', 'CHEM'], loc='upper center',
                 bbox_to_anchor=(0.5, 0.9995), ncol=3, fontsize=26, numpoints=2,
                 frameon=True, fancybox=False, edgecolor='black', framealpha=1,
                 handlelength=1.5, handletextpad=1.05, columnspacing=2.3, borderpad=0.32,
                 borderaxespad=0.0)
leg.get_frame().set_linewidth(1.6)

fig.savefig('out.png', dpi=200, facecolor='white')
